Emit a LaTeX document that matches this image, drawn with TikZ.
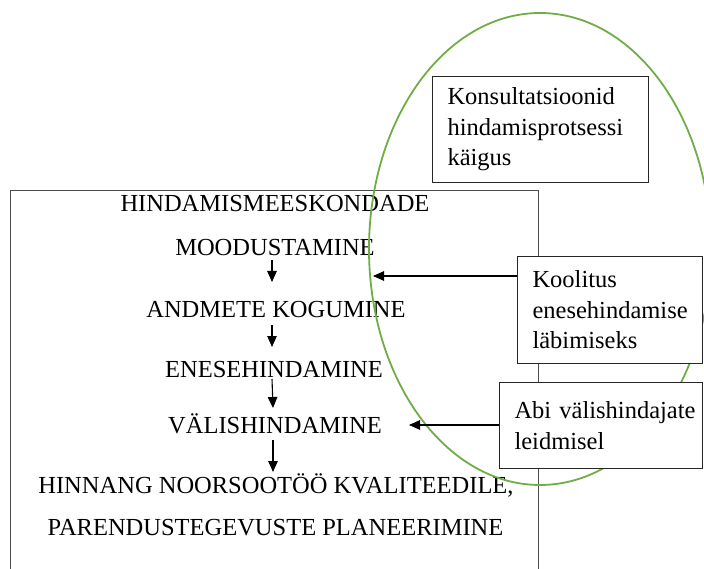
\documentclass[tikz,border=0pt]{standalone}
\usepackage{fontspec}
\setmainfont{Liberation Serif}
\usetikzlibrary{arrows.meta}
\definecolor{ellgreen}{HTML}{70AD47}
\begin{document}
\begin{tikzpicture}[x=1pt,y=-1pt,
  every node/.style={font=\fontsize{24.5}{30.5}\selectfont},
  maintxt/.style={anchor=base, inner sep=0pt},
  sidebox/.style={draw=black!85, line width=1.1pt, fill=white, align=left, inner xsep=15pt, inner ysep=0pt, anchor=north west},
  arr/.style={line width=1.1pt, -{Triangle[length=11pt,width=9.5pt]}}]
\useasboundingbox (0,0) rectangle (704,569);
\clip (0,0) rectangle (704,569);
% main frame (open at the bottom of the picture)
\node[draw=black!70, line width=1.1pt, minimum width=528pt, minimum height=420pt, anchor=north west, inner sep=0pt] (frame) at (10,190) {};
% main texts
\node[maintxt] (t1) at (275,212) {HINDAMISMEESKONDADE};
\node[maintxt] (t2) at (275,256) {MOODUSTAMINE};
\node[maintxt] (t3) at (276,318) {ANDMETE KOGUMINE};
\node[maintxt] (t4) at (274,377) {ENESEHINDAMINE};
\node[maintxt] (t5) at (275,433) {VÄLISHINDAMINE};
\node[maintxt] (t6) at (276,493) {HINNANG NOORSOOTÖÖ KVALITEEDILE,};
\node[maintxt] (t7) at (275.5,535) {PARENDUSTEGEVUSTE PLANEERIMINE};
% vertical arrows
\coordinate (a1s) at (272,260); \coordinate (a1e) at (272,282);
\coordinate (a2s) at (272,325); \coordinate (a2e) at (272,347);
\coordinate (a3s) at (272,379); \coordinate (a3e) at (273,408);
\coordinate (a4s) at (273,440); \coordinate (a4e) at (273,472);
\draw[arr] (a1s) -- (a1e);
\draw[arr] (a2s) -- (a2e);
\draw[arr] (a3s) -- (a3e);
\draw[arr] (a4s) -- (a4e);
% green ellipse
\draw[ellgreen, line width=1.8pt] (540,249) ellipse [x radius=171, y radius=236];
% side boxes
\node[sidebox, text width=186pt, minimum width=216pt, minimum height=106pt] (kons) at (432,76)
  {Konsultatsioonid\\hindamisprotsessi\\käigus};
\node[sidebox, text width=155pt, minimum width=185pt, minimum height=107pt] (kool) at (517,256)
  {\mbox{Koolitus}\\\mbox{enesehindamise}\\\mbox{läbimiseks}};
\node[sidebox, text width=173pt, minimum width=203pt, minimum height=86pt] (abi) at (499,382)
  {\mbox{Abi välishindajate}\\\mbox{leidmisel}};
% horizontal arrows
\coordinate (k1) at (373,276);
\coordinate (b1) at (409,425);
\draw[arr] (kool.west |- k1) -- (k1);
\draw[arr] (abi.west |- b1) -- (b1);
\end{tikzpicture}
\end{document}
